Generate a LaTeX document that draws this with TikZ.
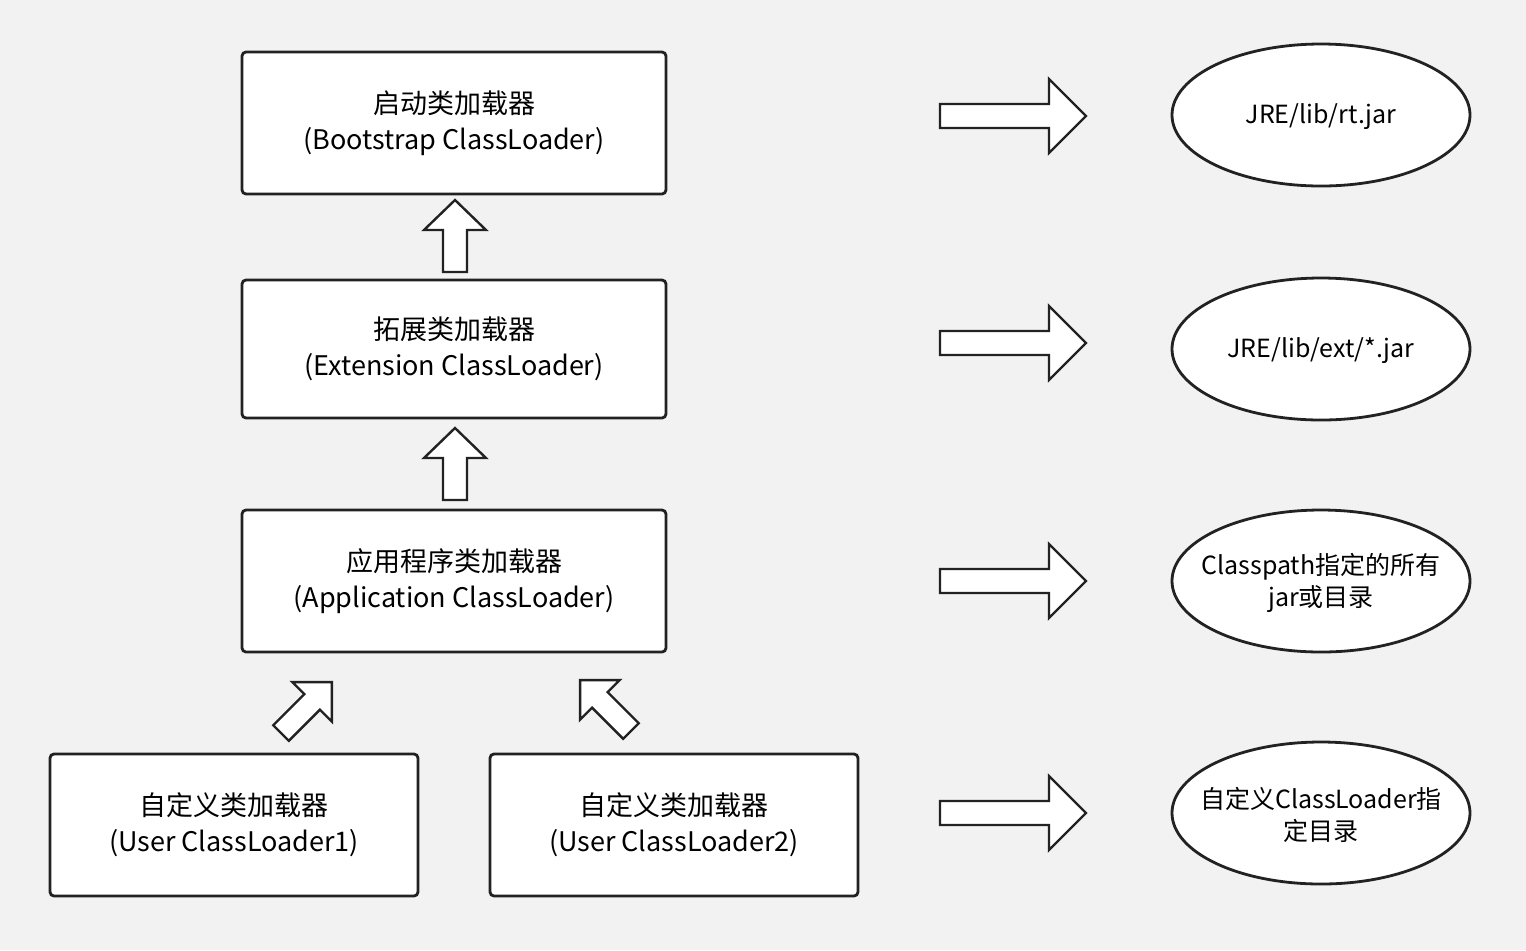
\documentclass[tikz,border=0pt]{standalone}
\usepackage{fontspec}
\setmainfont{Noto Sans CJK SC}
\definecolor{bg}{HTML}{F2F2F2}
\definecolor{ln}{HTML}{222222}
\begin{document}
\begin{tikzpicture}[x=0.5pt,y=-0.5pt,
  box/.style={draw=ln,line width=1.4pt,fill=white,rounded corners=2pt,align=center,font=\fontsize{13.5}{18}\selectfont,inner sep=0pt},
  etxt/.style={align=center,font=\fontsize{12.5}{16}\selectfont,inner sep=0pt},
  eshape/.style={draw=ln,line width=1.4pt,fill=white},
  pics/barrow/.style n args={4}{code={%
    \draw[draw=ln,line width=1.2pt,fill=white] (0,-#2)--(#1-#4,-#2)--(#1-#4,-#3)--(#1,0)--(#1-#4,#3)--(#1-#4,#2)--(0,#2)--cycle;}}]
\fill[bg] (0,0) rectangle (1526,950);
\useasboundingbox (0,0) rectangle (1526,950);
\node[box,minimum width=212pt,minimum height=71pt] (boot) at (454,123) {启动类加载器\\(Bootstrap ClassLoader)};
\node[box,minimum width=212pt,minimum height=69pt] (ext) at (454,349) {拓展类加载器\\(Extension ClassLoader)};
\node[box,minimum width=212pt,minimum height=71pt] (app) at (454,581) {应用程序类加载器\\(Application ClassLoader)};
\node[box,minimum width=184pt,minimum height=71pt] (u1) at (234,825) {自定义类加载器\\(User ClassLoader1)};
\node[box,minimum width=184pt,minimum height=71pt] (u2) at (674,825) {自定义类加载器\\(User ClassLoader2)};
\foreach \y in {115,349,581,813} \draw[eshape] (1321,\y) ellipse [x radius=149, y radius=71];
\node[etxt] (e1) at (1321,117) {JRE/lib/rt.jar};
\node[etxt] (e2) at (1321,351) {JRE/lib/ext/*.jar};
\node[etxt] (e3) at (1321,583) {Classpath指定的所有\\jar或目录};
\node[etxt] (e4) at (1321,815) {自定义ClassLoader指\\定目录};
\foreach \y in {116,343,581,813} \pic at (940,\y) {barrow={146}{12}{37}{37}};
\pic[rotate=90] at (455,272) {barrow={72}{12}{31}{30}};
\pic[rotate=90] at (455,500) {barrow={72}{12}{31}{30}};
\pic[rotate=45] at (281,733) {barrow={72}{11}{28}{28}};
\pic[rotate=135] at (631,731) {barrow={72}{11}{28}{28}};
\end{tikzpicture}
\end{document}
